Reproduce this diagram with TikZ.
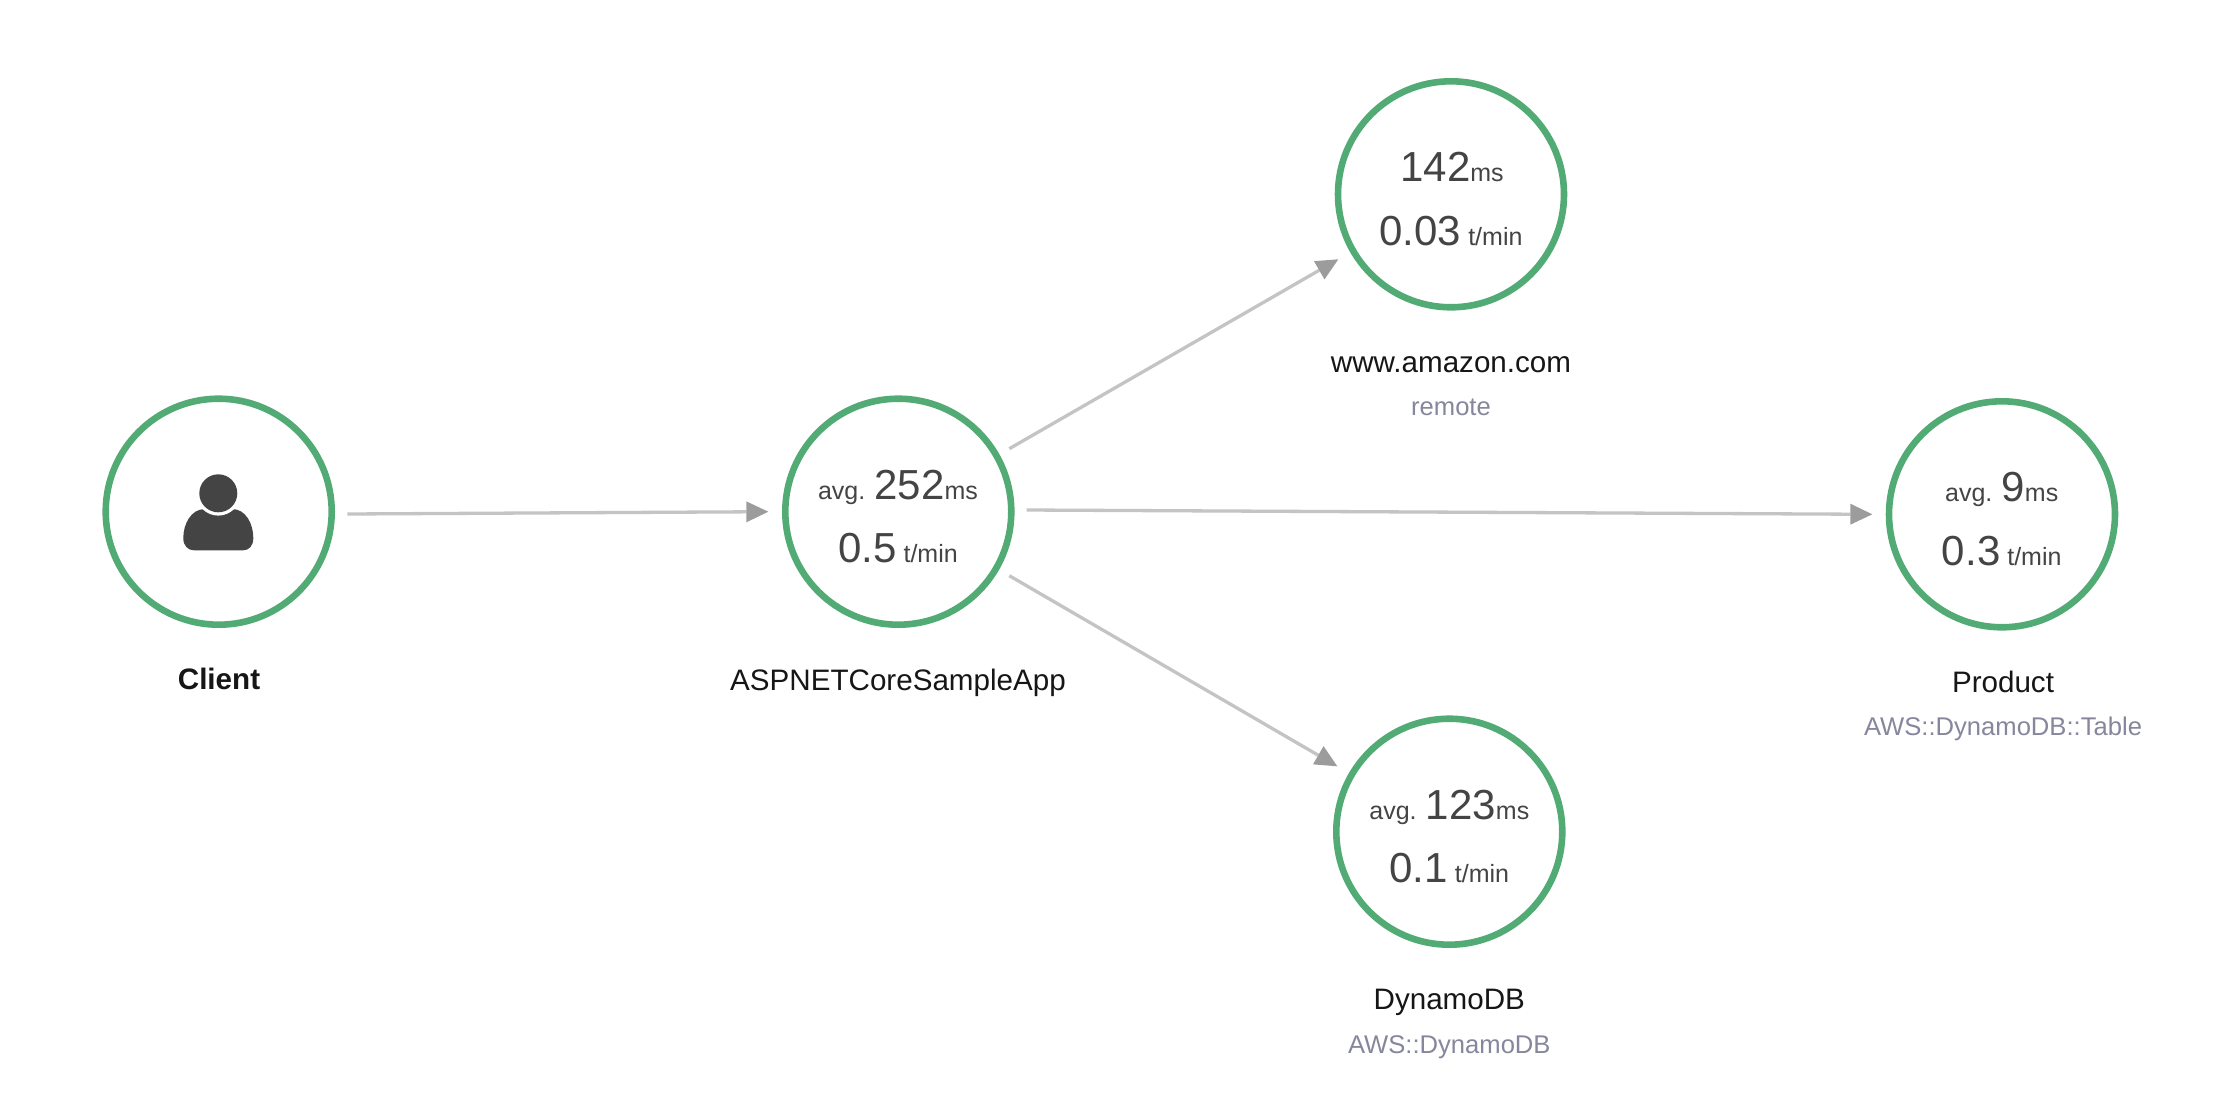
\documentclass[tikz,border=0pt]{standalone}
\usepackage{fontspec}
\setmainfont{Liberation Sans}
\usetikzlibrary{arrows.meta}
\definecolor{grn}{HTML}{52AB74}
\definecolor{edgec}{HTML}{C4C4C4}
\definecolor{tipc}{HTML}{9C9C9C}
\definecolor{numc}{HTML}{444444}
\definecolor{subc}{HTML}{86869C}
\definecolor{namec}{HTML}{161616}
\newcommand{\fsz}[1]{\fontsize{#1}{#1}\selectfont}
\newcommand{\bignum}[1]{{\fsz{42}#1}}
\newcommand{\smtxt}[1]{{\fsz{25}#1}}
\tikzset{
  x=1pt,y=-1pt,
  svc/.style={circle,draw=grn,line width=6.6pt,fill=white,minimum size=226pt,inner sep=0pt},
  stat/.style={text=numc,inner sep=0pt,anchor=base},
  namelbl/.style={text=namec,inner sep=0pt,anchor=base,font=\fsz{29.6}},
  sublbl/.style={text=subc,inner sep=0pt,anchor=base,font=\fsz{25.6}},
  link/.style={draw=edgec,line width=3.3pt,-{Triangle[length=22pt,width=21pt,color=tipc,line width=0pt]}},
}
\begin{document}
\begin{tikzpicture}
\useasboundingbox (0,0) rectangle (2235,1098);
\fill[white] (0,0) rectangle (2235,1098);
\node[svc] (client) at (218.7,511.7) {};
\node[svc] (app) at (898.3,511.7) {};
\node[svc] (web) at (1451,194.3) {};
\node[svc] (prod) at (2002,514.3) {};
\node[svc] (dyn) at (1449.3,831.7) {};
% person
\fill[numc] (205,509) -- (232,509) .. controls (246,509) and (253.3,524) .. (253.3,538)
  .. controls (253.3,546) and (249,550.3) .. (243,550.3)
  -- (194,550.3) .. controls (188,550.3) and (183.3,546) .. (183.3,538)
  .. controls (183.3,524) and (191,509) .. (205,509) -- cycle;
\fill[white] (218.3,493.3) circle (22.3);
\fill[numc] (218.3,493.3) circle (19);
% labels
\node[namelbl,font=\fsz{29.6}\bfseries] (lc) at (219,689.3) {Client};
\node[namelbl] (la) at (898,690) {ASPNETCoreSampleApp};
\node[namelbl] (lw) at (1451,372.7) {www.amazon.com};
\node[sublbl] (sw) at (1451,415) {remote};
\node[namelbl] (lp) at (2003,692.3) {Product};
\node[sublbl] (sp) at (2003,735) {AWS::DynamoDB::Table};
\node[namelbl] (ld) at (1449.3,1009) {DynamoDB};
\node[sublbl] (sd) at (1449.3,1053) {AWS::DynamoDB};
% stats
\node[stat] (a1) at (898,499.3) {\smtxt{avg. }\bignum{252}\smtxt{ms}};
\node[stat] (a2) at (898,562.3) {\bignum{0.5}\smtxt{ t/min}};
\node[stat] (w1) at (1452,181.7) {\bignum{142}\smtxt{ms}};
\node[stat] (w2) at (1451,245.7) {\bignum{0.03}\smtxt{ t/min}};
\node[stat] (p1) at (2001.7,501.7) {\smtxt{avg. }\bignum{9}\smtxt{ms}};
\node[stat] (p2) at (2001.7,565) {\bignum{0.3}\smtxt{ t/min}};
\node[stat] (d1) at (1449.3,819.3) {\smtxt{avg. }\bignum{123}\smtxt{ms}};
\node[stat] (d2) at (1449.3,882.7) {\bignum{0.1}\smtxt{ t/min}};
% connector ends, just off the circles
\coordinate (c1s) at (347.3,514); \coordinate (c1e) at (768.3,511.7);
\coordinate (c2s) at (1009.3,448.7); \coordinate (c2e) at (1338.3,259.3);
\coordinate (c3s) at (1026.7,510); \coordinate (c3e) at (1872.3,514.3);
\coordinate (c4s) at (1009.3,575.7); \coordinate (c4e) at (1337.3,766.3);
\draw[link] (c1s) -- (c1e);
\draw[link] (c2s) -- (c2e);
\draw[link] (c3s) -- (c3e);
\draw[link] (c4s) -- (c4e);
\end{tikzpicture}
\end{document}
